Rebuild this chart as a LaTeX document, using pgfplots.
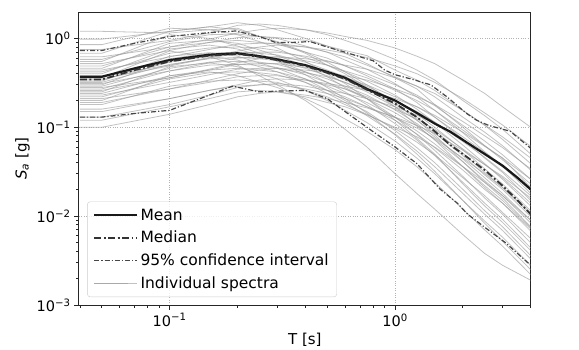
\documentclass[border=0pt]{standalone}
\usepackage{fontspec}
\setmainfont{DejaVu Sans}
\usepackage{pgfplots}
\pgfplotsset{compat=1.18}
\begin{document}
\begin{tikzpicture}
\useasboundingbox (-79pt,-44pt) rectangle (500pt,305pt);
\begin{axis}[
  at={(0pt,0pt)}, anchor=south west,
  scale only axis, width=451.7pt, height=293pt,
  xmode=log, ymode=log,
  xmin=0.0396, xmax=4.0, ymin=0.001, ymax=1.98,
  xtick={0.1,1}, xticklabels={10\textsuperscript{−1},10\textsuperscript{0}},
  ytick={0.001,0.01,0.1,1},
  yticklabels={10\textsuperscript{−3},10\textsuperscript{−2},10\textsuperscript{−1},10\textsuperscript{0}},
  minor xtick={0.04,0.05,0.06,0.07,0.08,0.09,0.2,0.3,0.4,0.5,0.6,0.7,0.8,0.9,2,3,4},
  minor ytick={0.002,0.003,0.004,0.005,0.006,0.007,0.008,0.009,0.02,0.03,0.04,0.05,0.06,0.07,0.08,0.09,0.2,0.3,0.4,0.5,0.6,0.7,0.8,0.9},
  tick pos=left, tick align=outside,
  major tick length=5pt, minor tick length=3pt,
  every tick/.style={black!85, line width=0.8pt},
  axis line style={black!85, line width=1pt},
  grid=major,
  major grid style={dotted, black!30, line width=0.7pt},
  tick label style={font=\fontsize{14.5}{17}\selectfont},
  label style={font=\fontsize{15}{18}\selectfont},
  xlabel={T [s]},
  ylabel={{\itshape S}\textsubscript{\itshape a} [g]},
  legend style={at={(0.018,0.027)}, anchor=south west, draw=black!20,
    rounded corners=3pt, fill=white, fill opacity=0.8, text opacity=1,
    font=\fontsize{15.5}{18}\selectfont, row sep=5.5pt, inner xsep=6pt, inner ysep=5pt,
    cells={anchor=west}},
  legend image code/.code={\draw[#1] (0pt,0pt) -- (34pt,0pt); \path (0pt,0pt) -- (43pt,0pt);},
  spec/.style={color=black!40, opacity=0.6, line width=0.8pt, forget plot},
]
% individual spectra
\addplot[spec] coordinates {(0.04,1.2)(0.05,1.2)(0.1,1.15)(0.15,1.25)(0.2,1.3)(0.25,1.05)(0.3,0.9)(0.4,0.68)(0.5,0.5)(0.6,0.4)(0.75,0.28)(1,0.17)(1.25,0.105)(1.5,0.072)(2,0.036)(2.5,0.021)(3,0.014)(4,0.0072)};
\addplot[spec] coordinates {(0.04,0.98)(0.05,0.98)(0.1,1.2)(0.15,1.35)(0.2,1.5)(0.25,1.4)(0.3,1.25)(0.4,1.0)(0.5,0.82)(0.6,0.68)(0.75,0.52)(1,0.36)(1.25,0.27)(1.5,0.18)(2,0.1)(2.5,0.062)(3,0.045)(4,0.021)};
\addplot[spec] coordinates {(0.04,0.85)(0.05,0.85)(0.1,1.3)(0.15,1.25)(0.2,1.1)(0.25,0.92)(0.3,0.78)(0.4,0.55)(0.5,0.4)(0.6,0.31)(0.75,0.21)(1,0.12)(1.25,0.075)(1.5,0.05)(2,0.023)(2.5,0.013)(3,0.0085)(4,0.0041)};
\addplot[spec] coordinates {(0.04,0.75)(0.05,0.75)(0.1,0.95)(0.15,1.15)(0.2,1.4)(0.25,1.45)(0.3,1.4)(0.4,1.25)(0.5,1.1)(0.6,0.95)(0.75,0.78)(1,0.58)(1.25,0.44)(1.5,0.34)(2,0.2)(2.5,0.135)(3,0.095)(4,0.05)};
\addplot[spec] coordinates {(0.04,0.68)(0.05,0.68)(0.1,1.2)(0.15,1.35)(0.2,1.25)(0.25,1.05)(0.3,0.92)(0.4,0.7)(0.5,0.54)(0.6,0.42)(0.75,0.3)(1,0.19)(1.25,0.12)(1.5,0.082)(2,0.041)(2.5,0.024)(3,0.016)(4,0.0076)};
\addplot[spec] coordinates {(0.04,0.62)(0.05,0.62)(0.1,0.8)(0.15,0.98)(0.2,1.15)(0.25,1.25)(0.3,1.3)(0.4,1.25)(0.5,1.15)(0.6,1.05)(0.75,0.95)(1,0.78)(1.25,0.63)(1.5,0.52)(2,0.34)(2.5,0.24)(3,0.17)(4,0.1)};
\addplot[spec] coordinates {(0.04,0.58)(0.05,0.58)(0.1,0.92)(0.15,1.1)(0.2,1.12)(0.25,1.05)(0.3,1.0)(0.4,0.82)(0.5,0.7)(0.6,0.57)(0.75,0.45)(1,0.31)(1.25,0.22)(1.5,0.155)(2,0.087)(2.5,0.053)(3,0.037)(4,0.018)};
\addplot[spec] coordinates {(0.04,0.55)(0.05,0.55)(0.1,1.1)(0.15,1.0)(0.2,0.82)(0.25,0.68)(0.3,0.55)(0.4,0.39)(0.5,0.28)(0.6,0.21)(0.75,0.145)(1,0.082)(1.25,0.05)(1.5,0.032)(2,0.015)(2.5,0.0083)(3,0.0052)(4,0.0025)};
\addplot[spec] coordinates {(0.04,0.52)(0.05,0.52)(0.1,0.73)(0.15,0.9)(0.2,1.02)(0.25,1.05)(0.3,1.02)(0.4,0.95)(0.5,0.82)(0.6,0.73)(0.75,0.64)(1,0.44)(1.25,0.34)(1.5,0.26)(2,0.155)(2.5,0.105)(3,0.073)(4,0.039)};
\addplot[spec] coordinates {(0.04,0.49)(0.05,0.49)(0.1,0.8)(0.15,0.9)(0.2,0.95)(0.25,0.9)(0.3,0.86)(0.4,0.7)(0.5,0.6)(0.6,0.49)(0.75,0.38)(1,0.27)(1.25,0.19)(1.5,0.13)(2,0.074)(2.5,0.045)(3,0.031)(4,0.015)};
\addplot[spec] coordinates {(0.04,0.46)(0.05,0.46)(0.1,0.88)(0.15,0.95)(0.2,0.88)(0.25,0.74)(0.3,0.64)(0.4,0.49)(0.5,0.37)(0.6,0.28)(0.75,0.21)(1,0.13)(1.25,0.083)(1.5,0.055)(2,0.028)(2.5,0.016)(3,0.0105)(4,0.005)};
\addplot[spec] coordinates {(0.04,0.44)(0.05,0.44)(0.1,0.62)(0.15,0.75)(0.2,0.86)(0.25,0.88)(0.3,0.88)(0.4,0.8)(0.5,0.7)(0.6,0.62)(0.75,0.5)(1,0.37)(1.25,0.29)(1.5,0.22)(2,0.13)(2.5,0.088)(3,0.062)(4,0.033)};
\addplot[spec] coordinates {(0.04,0.42)(0.05,0.42)(0.1,0.68)(0.15,0.78)(0.2,0.8)(0.25,0.78)(0.3,0.73)(0.4,0.61)(0.5,0.5)(0.6,0.42)(0.75,0.33)(1,0.23)(1.25,0.16)(1.5,0.113)(2,0.063)(2.5,0.039)(3,0.026)(4,0.013)};
\addplot[spec] coordinates {(0.04,0.4)(0.05,0.4)(0.1,0.76)(0.15,0.84)(0.2,0.76)(0.25,0.64)(0.3,0.56)(0.4,0.42)(0.5,0.32)(0.6,0.25)(0.75,0.18)(1,0.11)(1.25,0.072)(1.5,0.048)(2,0.024)(2.5,0.014)(3,0.0092)(4,0.0044)};
\addplot[spec] coordinates {(0.04,0.38)(0.05,0.38)(0.1,0.5)(0.15,0.61)(0.2,0.72)(0.25,0.8)(0.3,0.84)(0.4,0.8)(0.5,0.74)(0.6,0.68)(0.75,0.61)(1,0.49)(1.25,0.4)(1.5,0.32)(2,0.21)(2.5,0.145)(3,0.106)(4,0.061)};
\addplot[spec] coordinates {(0.04,0.37)(0.05,0.37)(0.1,0.59)(0.15,0.68)(0.2,0.7)(0.25,0.68)(0.3,0.65)(0.4,0.54)(0.5,0.44)(0.6,0.37)(0.75,0.29)(1,0.2)(1.25,0.14)(1.5,0.1)(2,0.056)(2.5,0.034)(3,0.023)(4,0.0115)};
\addplot[spec] coordinates {(0.04,0.36)(0.05,0.36)(0.1,0.72)(0.15,0.62)(0.2,0.5)(0.25,0.38)(0.3,0.3)(0.4,0.2)(0.5,0.135)(0.6,0.095)(0.75,0.06)(1,0.03)(1.25,0.018)(1.5,0.012)(2,0.0062)(2.5,0.0038)(3,0.0028)(4,0.0019)};
\addplot[spec] coordinates {(0.04,0.35)(0.05,0.35)(0.1,0.49)(0.15,0.6)(0.2,0.68)(0.25,0.7)(0.3,0.7)(0.4,0.63)(0.5,0.56)(0.6,0.49)(0.75,0.4)(1,0.3)(1.25,0.23)(1.5,0.175)(2,0.105)(2.5,0.07)(3,0.049)(4,0.026)};
\addplot[spec] coordinates {(0.04,0.34)(0.05,0.34)(0.1,0.54)(0.15,0.63)(0.2,0.65)(0.25,0.63)(0.3,0.6)(0.4,0.49)(0.5,0.41)(0.6,0.34)(0.75,0.265)(1,0.18)(1.25,0.13)(1.5,0.092)(2,0.051)(2.5,0.031)(3,0.021)(4,0.0105)};
\addplot[spec] coordinates {(0.04,0.33)(0.05,0.33)(0.1,0.63)(0.15,0.69)(0.2,0.63)(0.25,0.53)(0.3,0.46)(0.4,0.35)(0.5,0.26)(0.6,0.2)(0.75,0.15)(1,0.092)(1.25,0.059)(1.5,0.04)(2,0.02)(2.5,0.0115)(3,0.0076)(4,0.0036)};
\addplot[spec] coordinates {(0.04,0.32)(0.05,0.32)(0.1,0.51)(0.15,0.59)(0.2,0.61)(0.25,0.59)(0.3,0.56)(0.4,0.46)(0.5,0.38)(0.6,0.32)(0.75,0.25)(1,0.17)(1.25,0.12)(1.5,0.086)(2,0.048)(2.5,0.029)(3,0.02)(4,0.0099)};
\addplot[spec] coordinates {(0.04,0.31)(0.05,0.31)(0.1,0.43)(0.15,0.53)(0.2,0.6)(0.25,0.62)(0.3,0.62)(0.4,0.56)(0.5,0.5)(0.6,0.43)(0.75,0.36)(1,0.26)(1.25,0.2)(1.5,0.155)(2,0.093)(2.5,0.062)(3,0.043)(4,0.023)};
\addplot[spec] coordinates {(0.04,0.3)(0.05,0.3)(0.1,0.57)(0.15,0.63)(0.2,0.57)(0.25,0.48)(0.3,0.42)(0.4,0.32)(0.5,0.24)(0.6,0.19)(0.75,0.135)(1,0.084)(1.25,0.054)(1.5,0.036)(2,0.018)(2.5,0.0105)(3,0.0069)(4,0.0033)};
\addplot[spec] coordinates {(0.04,0.29)(0.05,0.29)(0.1,0.46)(0.15,0.54)(0.2,0.55)(0.25,0.54)(0.3,0.51)(0.4,0.42)(0.5,0.35)(0.6,0.29)(0.75,0.23)(1,0.157)(1.25,0.11)(1.5,0.078)(2,0.044)(2.5,0.027)(3,0.018)(4,0.009)};
\addplot[spec] coordinates {(0.04,0.28)(0.05,0.28)(0.1,0.36)(0.15,0.45)(0.2,0.53)(0.25,0.59)(0.3,0.62)(0.4,0.59)(0.5,0.55)(0.6,0.5)(0.75,0.45)(1,0.36)(1.25,0.29)(1.5,0.24)(2,0.154)(2.5,0.106)(3,0.078)(4,0.045)};
\addplot[spec] coordinates {(0.04,0.27)(0.05,0.27)(0.1,0.43)(0.15,0.5)(0.2,0.51)(0.25,0.5)(0.3,0.47)(0.4,0.39)(0.5,0.32)(0.6,0.27)(0.75,0.21)(1,0.146)(1.25,0.103)(1.5,0.073)(2,0.041)(2.5,0.025)(3,0.017)(4,0.0084)};
\addplot[spec] coordinates {(0.04,0.26)(0.05,0.26)(0.1,0.36)(0.15,0.44)(0.2,0.51)(0.25,0.52)(0.3,0.52)(0.4,0.47)(0.5,0.42)(0.6,0.36)(0.75,0.3)(1,0.22)(1.25,0.17)(1.5,0.13)(2,0.078)(2.5,0.052)(3,0.036)(4,0.0195)};
\addplot[spec] coordinates {(0.04,0.25)(0.05,0.25)(0.1,0.48)(0.15,0.53)(0.2,0.48)(0.25,0.4)(0.3,0.35)(0.4,0.26)(0.5,0.2)(0.6,0.155)(0.75,0.113)(1,0.07)(1.25,0.045)(1.5,0.03)(2,0.015)(2.5,0.0088)(3,0.0058)(4,0.0028)};
\addplot[spec] coordinates {(0.04,0.24)(0.05,0.24)(0.1,0.38)(0.15,0.44)(0.2,0.46)(0.25,0.44)(0.3,0.42)(0.4,0.35)(0.5,0.29)(0.6,0.24)(0.75,0.19)(1,0.13)(1.25,0.091)(1.5,0.065)(2,0.036)(2.5,0.022)(3,0.015)(4,0.0074)};
\addplot[spec] coordinates {(0.04,0.23)(0.05,0.23)(0.1,0.32)(0.15,0.39)(0.2,0.45)(0.25,0.46)(0.3,0.46)(0.4,0.41)(0.5,0.37)(0.6,0.32)(0.75,0.26)(1,0.2)(1.25,0.15)(1.5,0.115)(2,0.069)(2.5,0.046)(3,0.032)(4,0.017)};
\addplot[spec] coordinates {(0.04,0.22)(0.05,0.22)(0.1,0.35)(0.15,0.41)(0.2,0.42)(0.25,0.41)(0.3,0.39)(0.4,0.32)(0.5,0.26)(0.6,0.22)(0.75,0.17)(1,0.12)(1.25,0.084)(1.5,0.059)(2,0.033)(2.5,0.02)(3,0.014)(4,0.0068)};
\addplot[spec] coordinates {(0.04,0.21)(0.05,0.21)(0.1,0.27)(0.15,0.34)(0.2,0.4)(0.25,0.44)(0.3,0.46)(0.4,0.44)(0.5,0.41)(0.6,0.38)(0.75,0.34)(1,0.27)(1.25,0.22)(1.5,0.18)(2,0.116)(2.5,0.08)(3,0.059)(4,0.034)};
\addplot[spec] coordinates {(0.04,0.2)(0.05,0.2)(0.1,0.38)(0.15,0.42)(0.2,0.38)(0.25,0.32)(0.3,0.28)(0.4,0.21)(0.5,0.16)(0.6,0.124)(0.75,0.09)(1,0.056)(1.25,0.036)(1.5,0.024)(2,0.012)(2.5,0.007)(3,0.0046)(4,0.0022)};
\addplot[spec] coordinates {(0.04,0.19)(0.05,0.19)(0.1,0.27)(0.15,0.32)(0.2,0.37)(0.25,0.38)(0.3,0.38)(0.4,0.34)(0.5,0.3)(0.6,0.27)(0.75,0.22)(1,0.16)(1.25,0.124)(1.5,0.095)(2,0.057)(2.5,0.038)(3,0.027)(4,0.014)};
\addplot[spec] coordinates {(0.04,0.18)(0.05,0.18)(0.1,0.29)(0.15,0.33)(0.2,0.34)(0.25,0.33)(0.3,0.32)(0.4,0.26)(0.5,0.22)(0.6,0.18)(0.75,0.14)(1,0.097)(1.25,0.068)(1.5,0.049)(2,0.027)(2.5,0.017)(3,0.011)(4,0.0056)};
\addplot[spec] coordinates {(0.04,0.16)(0.05,0.16)(0.1,0.21)(0.15,0.26)(0.2,0.3)(0.25,0.34)(0.3,0.35)(0.4,0.34)(0.5,0.31)(0.6,0.29)(0.75,0.26)(1,0.21)(1.25,0.17)(1.5,0.136)(2,0.088)(2.5,0.061)(3,0.045)(4,0.026)};
\addplot[spec] coordinates {(0.04,0.15)(0.05,0.15)(0.1,0.21)(0.15,0.26)(0.2,0.29)(0.25,0.3)(0.3,0.3)(0.4,0.27)(0.5,0.24)(0.6,0.21)(0.75,0.17)(1,0.128)(1.25,0.098)(1.5,0.075)(2,0.045)(2.5,0.03)(3,0.021)(4,0.011)};
\addplot[spec] coordinates {(0.04,0.13)(0.05,0.13)(0.1,0.18)(0.15,0.23)(0.2,0.28)(0.25,0.3)(0.3,0.31)(0.4,0.29)(0.5,0.26)(0.6,0.24)(0.75,0.21)(1,0.17)(1.25,0.137)(1.5,0.11)(2,0.072)(2.5,0.049)(3,0.036)(4,0.021)};
\addplot[spec] coordinates {(0.04,0.12)(0.05,0.12)(0.1,0.17)(0.15,0.21)(0.2,0.25)(0.25,0.26)(0.3,0.25)(0.4,0.22)(0.5,0.19)(0.6,0.17)(0.75,0.138)(1,0.1)(1.25,0.078)(1.5,0.06)(2,0.036)(2.5,0.024)(3,0.017)(4,0.009)};
\addplot[spec] coordinates {(0.04,0.1)(0.05,0.1)(0.1,0.14)(0.15,0.18)(0.2,0.22)(0.25,0.24)(0.3,0.25)(0.4,0.23)(0.5,0.21)(0.6,0.19)(0.75,0.165)(1,0.13)(1.25,0.105)(1.5,0.085)(2,0.055)(2.5,0.038)(3,0.028)(4,0.016)};
% mean
\addplot[black!90, line width=2.2pt] coordinates {(0.04,0.37)(0.05,0.37)(0.07,0.46)(0.1,0.57)(0.15,0.655)(0.2,0.68)(0.25,0.63)(0.3,0.58)(0.4,0.50)(0.5,0.42)(0.6,0.36)(0.75,0.27)(1.0,0.2)(1.25,0.145)(1.5,0.11)(1.76,0.089)(2.0,0.072)(2.5,0.05)(3.0,0.037)(3.5,0.027)(4.0,0.02)};
\addlegendentry{Mean}
% median
\addplot[black!80, line width=1.8pt, dash pattern=on 7pt off 2.5pt on 1.8pt off 2.5pt] coordinates {(0.04,0.345)(0.05,0.345)(0.07,0.44)(0.1,0.55)(0.15,0.64)(0.2,0.67)(0.25,0.62)(0.3,0.57)(0.4,0.49)(0.5,0.41)(0.6,0.35)(0.75,0.265)(1.0,0.185)(1.25,0.13)(1.5,0.09)(1.76,0.063)(2.0,0.05)(2.5,0.033)(3.0,0.022)(3.5,0.015)(4.0,0.0105)};
\addlegendentry{Median}
% 95% confidence interval
\addplot[black!72, line width=1.2pt, dash pattern=on 5pt off 2pt on 1.2pt off 2pt] coordinates {(0.04,0.73)(0.05,0.73)(0.07,0.88)(0.1,1.05)(0.15,1.16)(0.196,1.21)(0.25,1.05)(0.295,0.9)(0.35,0.9)(0.42,0.92)(0.5,0.8)(0.6,0.7)(0.73,0.6)(0.8,0.56)(0.9,0.44)(1.0,0.39)(1.2,0.345)(1.44,0.30)(1.7,0.22)(2.07,0.144)(2.3,0.12)(2.6,0.105)(3.25,0.09)(4.0,0.058)};
\addlegendentry{95\% confidence interval}
\addplot[black!72, line width=1.2pt, dash pattern=on 5pt off 2pt on 1.2pt off 2pt, forget plot] coordinates {(0.04,0.13)(0.05,0.13)(0.07,0.143)(0.1,0.155)(0.15,0.23)(0.19,0.29)(0.25,0.25)(0.3,0.255)(0.4,0.26)(0.5,0.21)(0.57,0.165)(0.8,0.089)(1.0,0.06)(1.25,0.039)(1.59,0.02)(1.89,0.014)(2.1,0.0105)(2.5,0.0075)(3.1,0.005)(4.0,0.0028)};
\addlegendimage{color=black!40, opacity=0.6, line width=0.8pt}
\addlegendentry{Individual spectra}
\end{axis}
\end{tikzpicture}
\end{document}
